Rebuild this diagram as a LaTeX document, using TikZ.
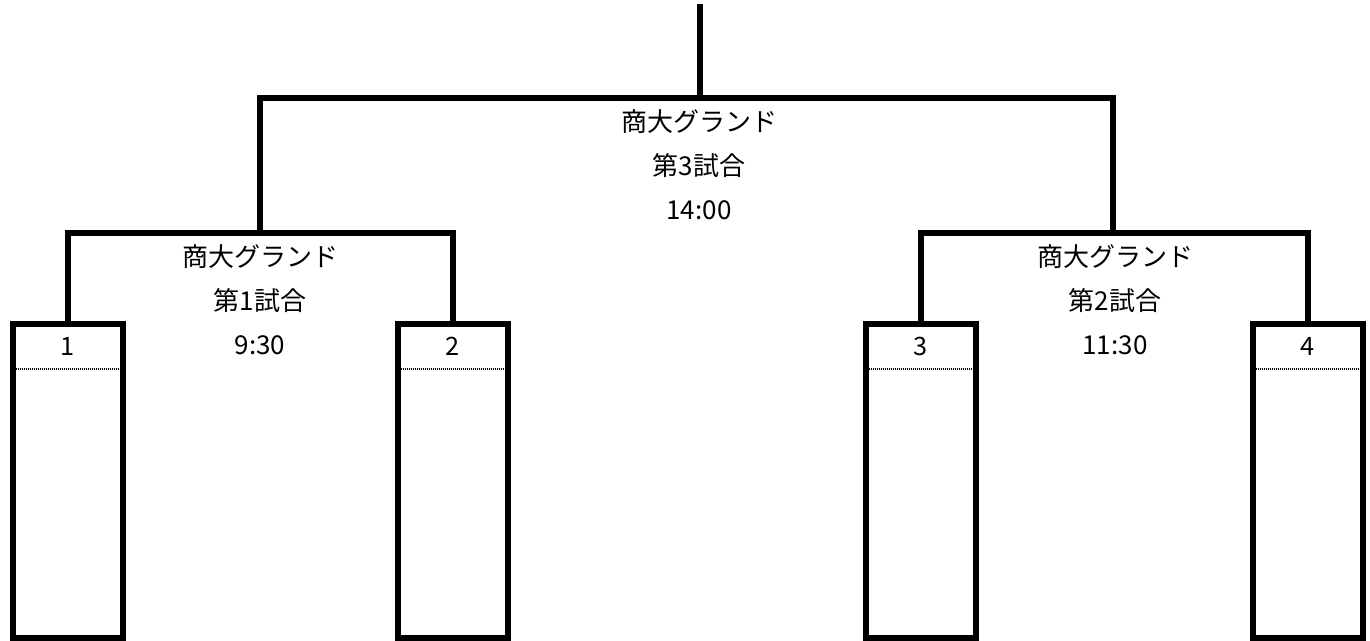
\documentclass[tikz,border=0pt]{standalone}
\usepackage{fontspec}
\setmainfont{Noto Sans CJK JP}
\usetikzlibrary{positioning, calc}

\tikzset{
  teambox/.style={draw, line width=4.5pt, minimum width=82.5pt, minimum height=234.75pt, inner sep=0pt},
  bracket/.style={line width=4.5pt, line cap=rect},
  seedline/.style={line width=2pt, dash pattern=on 0.75pt off 0.75pt, black},
  gameinfo/.style={align=center, font=\fontsize{19.5pt}{33pt}\selectfont},
  seedno/.style={font=\fontsize{19pt}{20pt}\selectfont}
}

\begin{document}
\begin{tikzpicture}[x=0.75pt, y=-0.75pt]
\useasboundingbox (0,0) rectangle (1370,641);

% team boxes
\foreach \n/\x in {1/67.5, 2/452.5, 3/920.5, 4/1307.5} {
    \node[teambox] (t\n) at (\x, 481) {};
    \node[seedno] (n\n) at (\x, 346) {\n};
    \draw[seedline] ([xshift=3pt]t\n.west |- 0,369) -- ([xshift=-3pt]t\n.east |- 0,369);
};

% bracket joints
\coordinate (g1) at (260, 233);
\coordinate (g2) at (1113, 233);
\coordinate (g3) at (700, 98);
\coordinate (top) at (700, 7);

\draw[bracket] (t1.north) |- (g1) -| (t2.north);
\draw[bracket] (t3.north) |- (g2) -| (t4.north);
\draw[bracket] (g1) |- (g3) -| (g2);
\draw[bracket] (g3) -- (top);

% game info
\node[gameinfo] (m1) at (260, 300) {商大グランド\\第1試合\\9:30};
\node[gameinfo] (m2) at (1115, 300) {商大グランド\\第2試合\\11:30};
\node[gameinfo] (m3) at (699, 165) {商大グランド\\第3試合\\14:00};
\end{tikzpicture}
\end{document}
